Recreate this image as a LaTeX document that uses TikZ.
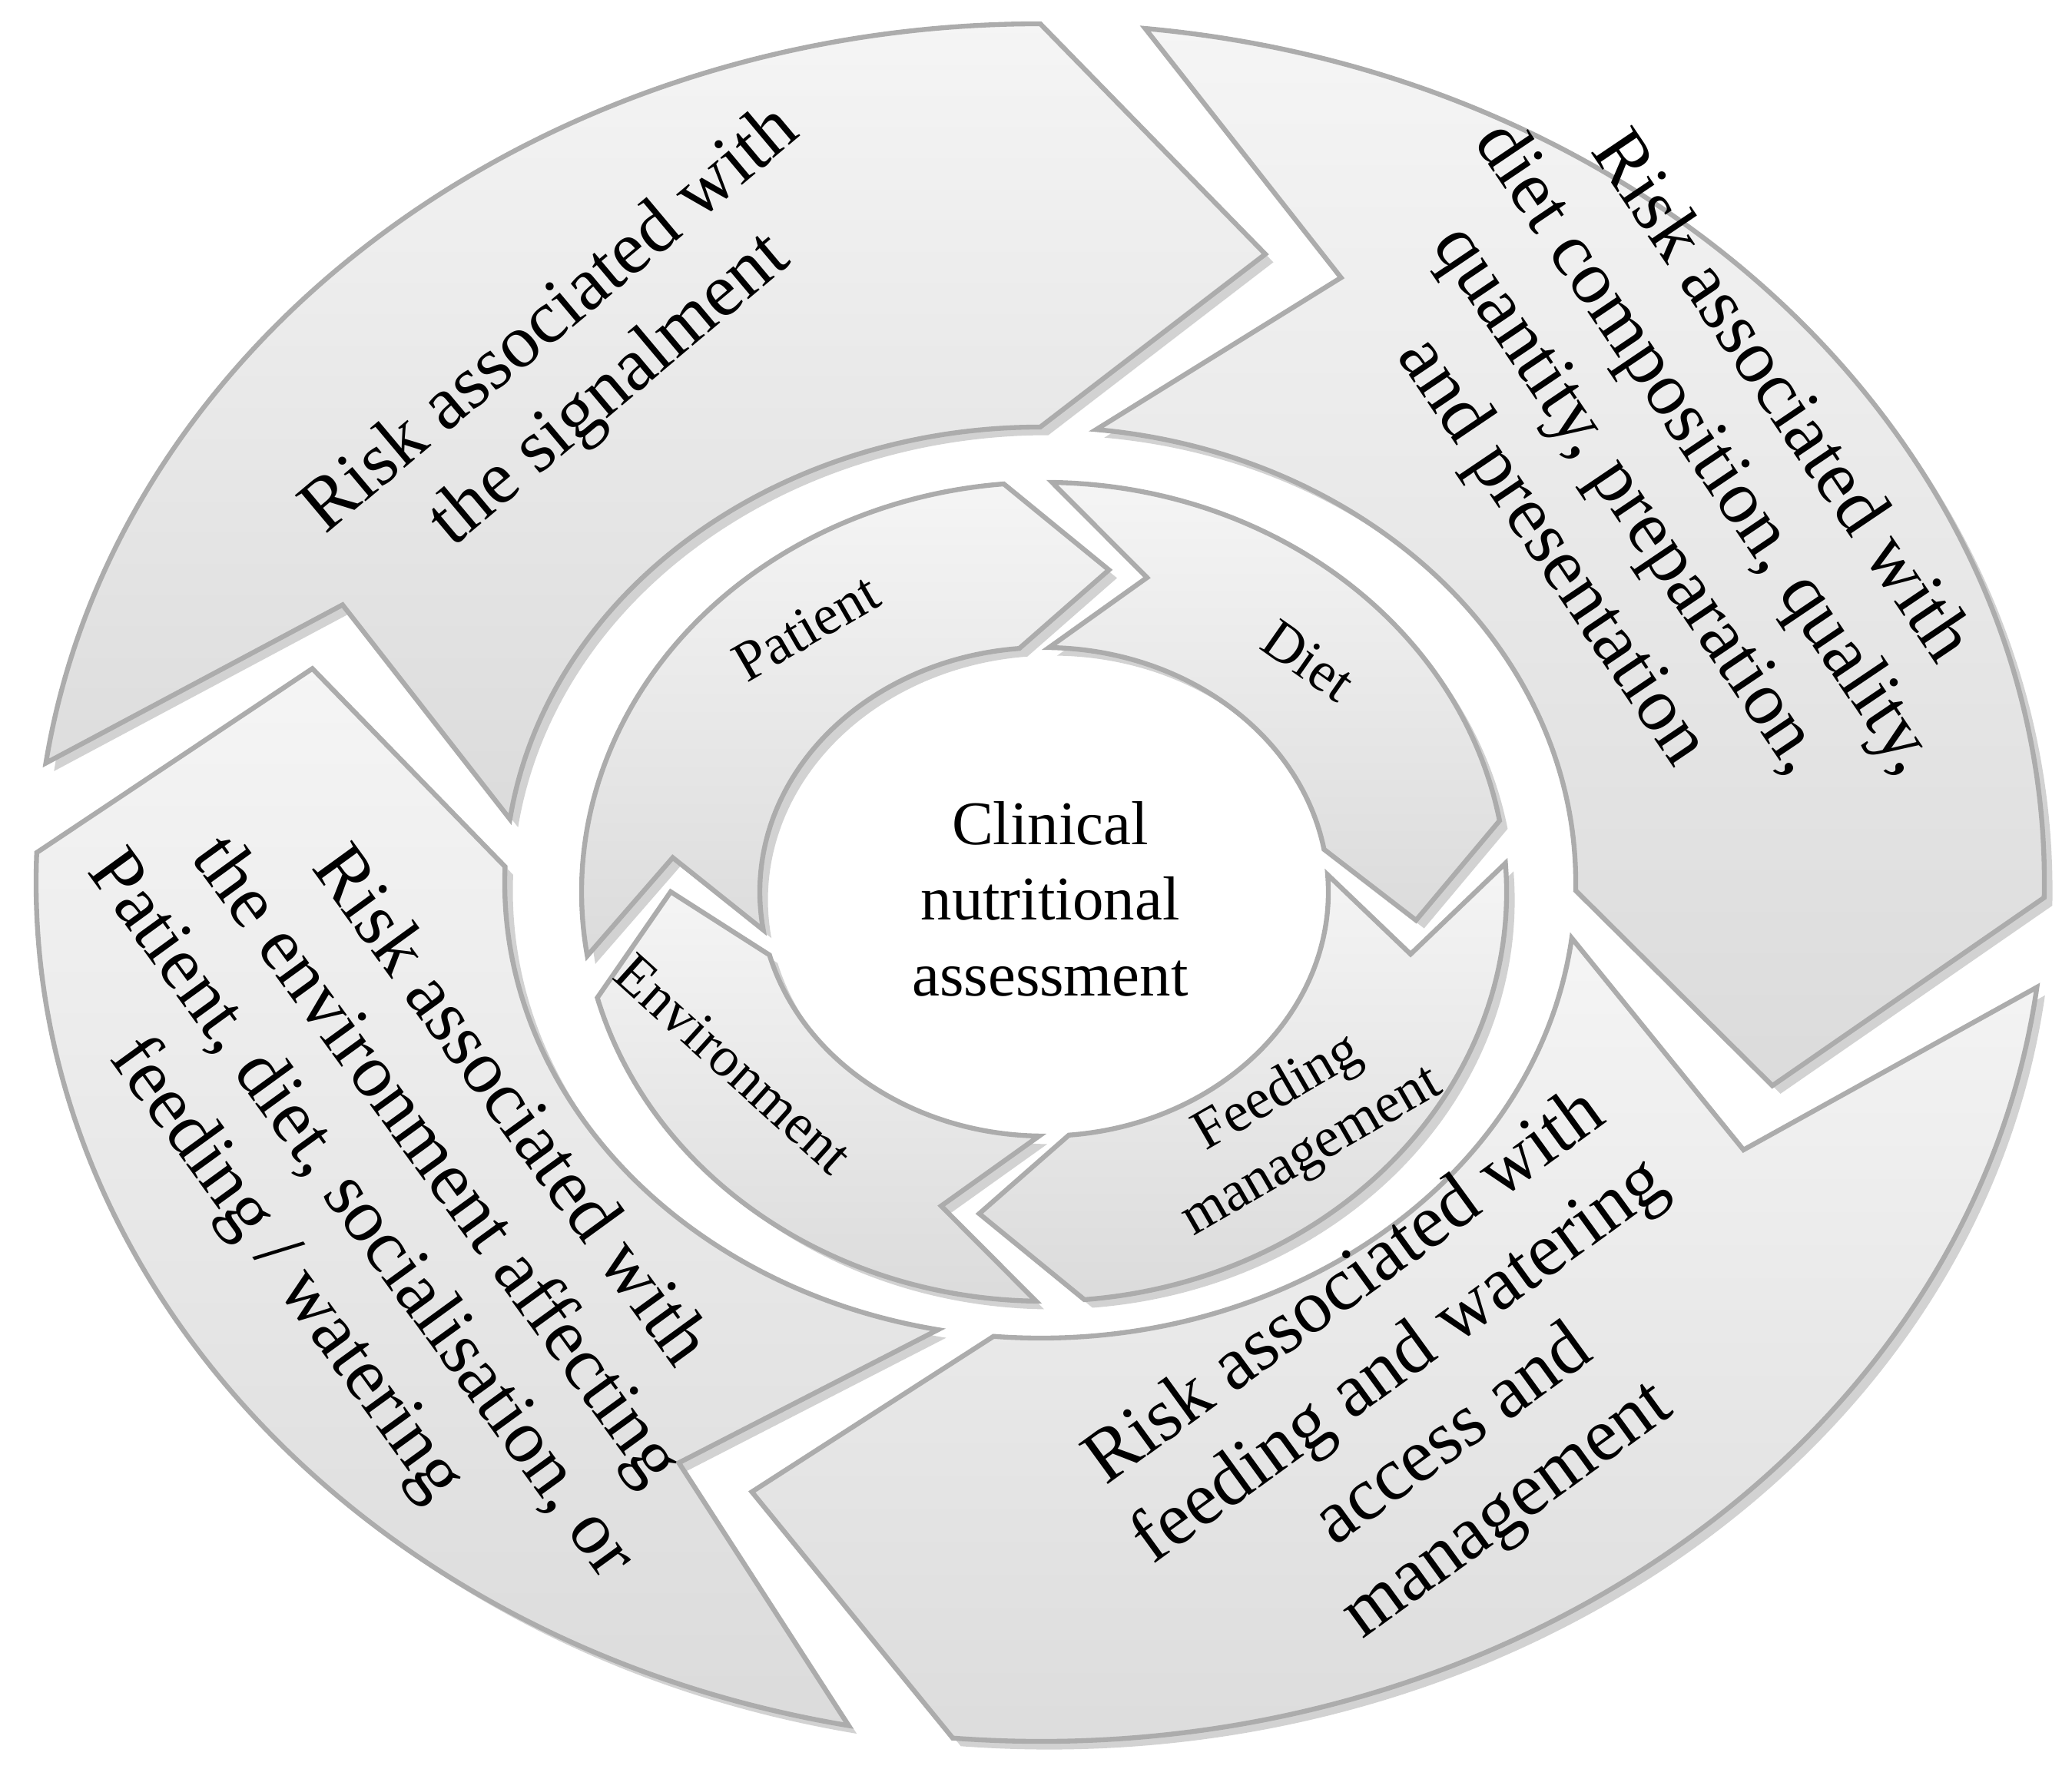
\documentclass[tikz,border=0pt]{standalone}
\usepackage{fontspec}
\setmainfont{Liberation Serif}
\usetikzlibrary{shadows}
\newcommand\rarrow[7]{% tail, head, rix, riy, rox, roy, delta
  \pgfmathsetmacro\rmidx{(#3+#5)/2}\pgfmathsetmacro\rmidy{(#4+#6)/2}
  \pgfmathsetmacro\rtipa{#2-#7}\pgfmathsetmacro\rnota{#1-#7}
  \draw[arr] (#1:#5cm and #6cm) arc[start angle=#1,end angle=#2,x radius=#5cm,y radius=#6cm]
    -- (\rtipa:\rmidx cm and \rmidy cm) -- (#2:#3cm and #4cm)
    arc[start angle=#2,end angle=#1,x radius=#3cm,y radius=#4cm]
    -- (\rnota:\rmidx cm and \rmidy cm) -- cycle;}
\tikzset{
  arr/.style={line width=1.8pt,draw=gray!65,top color=gray!8,bottom color=gray!28,
    drop shadow={shadow xshift=3pt,shadow yshift=-3pt,fill=gray!70}},
  outer/.style={align=center,font=\fontsize{28}{34}\selectfont},
  inner/.style={align=center,font=\fontsize{21}{25}\selectfont}}
\begin{document}
\begin{tikzpicture}
\useasboundingbox (0,0) rectangle (26.97,23.16);
\begin{scope}[shift={(13.54,11.67)}]
 \rarrow{172}{90}{6.97}{5.93}{13.07}{11.18}{17}
 \rarrow{84}{-1}{6.97}{5.93}{13.07}{11.18}{17}
 \rarrow{-7}{-95}{6.97}{5.93}{13.07}{11.18}{17}
 \rarrow{259}{178}{6.97}{5.93}{13.07}{11.18}{17}
\end{scope}
\begin{scope}[shift={(13.59,11.55)}]
 \rarrow{189}{95}{3.70}{3.18}{6.02}{5.33}{15}
 \rarrow{89}{10}{3.70}{3.18}{6.02}{5.33}{15}
 \rarrow{4}{-85}{3.70}{3.18}{6.02}{5.33}{15}
 \rarrow{269}{195}{3.70}{3.18}{6.02}{5.33}{15}
\end{scope}
\node[outer,rotate=40] (o1) at (7.57,18.52) {Risk associated with\\the signalment};
\node[outer,rotate=-56] (o2) at (21.67,16.97) {Risk associated with\\diet composition, quality,\\quantity, preparation,\\and presentation};
\node[outer,rotate=-54] (o3) at (5.16,7.68) {Risk associated with\\the environment affecting\\Patient, diet, socialisation, or\\feeding / watering};
\node[outer,rotate=36] (o4) at (18.58,4.93) {Risk associated with\\feeding and watering\\access and\\management};
\node[inner,rotate=30] (i1) at (10.49,14.99) {Patient};
\node[inner,rotate=-35] (i2) at (17.03,14.56) {Diet};
\node[inner,rotate=30] (i3) at (16.86,8.54) {Feeding\\management};
\node[inner,rotate=-42] (i4) at (9.55,9.31) {Environment};
\node[inner,font=\fontsize{23}{28}\selectfont] (c) at (13.67,11.46) {Clinical\\nutritional\\assessment};
\end{tikzpicture}
\end{document}
